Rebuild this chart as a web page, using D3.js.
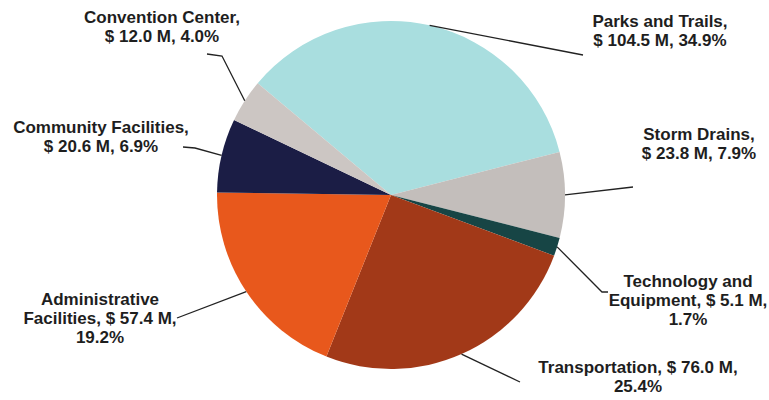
<!DOCTYPE html>
<html>
<head>
<meta charset="utf-8">
<script src="https://cdn.jsdelivr.net/npm/d3@7"></script>
<style>
  body { margin: 0; background: #fff; }
  svg text { font-family: "Liberation Sans", Arial, sans-serif; font-weight: bold; fill: #1e1e1e; }
</style>
</head>
<body>
<div id="chart"></div>
<script>
// data, in the clockwise order drawn (starting at the Parks slice)
var categories = ["Parks and Trails", "Storm Drains", "Technology and Equipment", "Transportation",
                  "Administrative Facilities", "Community Facilities", "Convention Center"];
var amounts = [104.5, 23.8, 5.1, 76.0, 57.4, 20.6, 12.0];   // $ M
var percents = [34.9, 7.9, 1.7, 25.4, 19.2, 6.9, 4.0];
var colors = ["#a9dedf", "#c3bebb", "#174545", "#a23918", "#e8581c", "#1b1d45", "#ccc6c3"];

// label text lines (how the original wraps them)
var labelLines = [
  ["Parks and Trails,", "$ 104.5 M, 34.9%"],
  ["Storm Drains,", "$ 23.8 M, 7.9%"],
  ["Technology and", "Equipment, $ 5.1 M,", "1.7%"],
  ["Transportation, $ 76.0 M,", "25.4%"],
  ["Administrative", "Facilities, $ 57.4 M,", "19.2%"],
  ["Community Facilities,", "$ 20.6 M, 6.9%"],
  ["Convention Center,", "$ 12.0 M, 4.0%"]
];

// label layout: text centre x, first baseline y, leader line bend points
var labelLayout = [
  { x: 660, y: 27, pts: [[583, 55]] },
  { x: 699, y: 140, pts: [[633, 187]] },
  { x: 688, y: 287, pts: [[602, 292], [608, 292]] },
  { x: 638, y: 373, pts: [[520, 382]] },
  { x: 100, y: 305, pts: [[177, 318]] },
  { x: 101, y: 133, pts: [[195, 148], [183, 147]] },
  { x: 162, y: 23, pts: [[222, 56], [207, 54]] }
];

var width = 769;
var height = 400;
var cx = 391, cy = 195, radius = 174;

var svg = d3.select("#chart").append("svg")
    .attr("width", width)
    .attr("height", height);

var pie = d3.pie()
    .sort(null)
    .value(function (d) { return d; })
    .startAngle(-50 * Math.PI / 180)
    .endAngle(310 * Math.PI / 180);

var arcs = pie(amounts);

var arc = d3.arc().innerRadius(0).outerRadius(radius);
var edge = d3.arc().innerRadius(radius).outerRadius(radius);

var pieGroup = svg.append("g")
    .attr("transform", "translate(" + cx + "," + cy + ")");

pieGroup.selectAll("path")
    .data(arcs)
    .enter()
    .append("path")
    .attr("d", arc)
    .attr("fill", function (d, i) { return colors[i]; });

// leader lines
var line = d3.line();
svg.append("g").selectAll("path")
    .data(arcs)
    .enter()
    .append("path")
    .attr("d", function (d, i) {
      var c = edge.centroid(d);
      var pts = [[cx + c[0], cy + c[1]]].concat(labelLayout[i].pts);
      return line(pts);
    })
    .attr("fill", "none")
    .attr("stroke", "#222")
    .attr("stroke-width", 1.3);

// labels
var labels = svg.append("g").selectAll("text")
    .data(labelLines)
    .enter()
    .append("text")
    .attr("text-anchor", "middle")
    .attr("font-size", 17)
    .attr("x", function (d, i) { return labelLayout[i].x; })
    .attr("y", function (d, i) { return labelLayout[i].y; });

labels.selectAll("tspan")
    .data(function (d, i) { return d.map(function (t) { return { t: t, x: labelLayout[i].x }; }); })
    .enter()
    .append("tspan")
    .attr("x", function (d) { return d.x; })
    .attr("dy", function (d, j) { return j === 0 ? 0 : 18.8; })
    .text(function (d) { return d.t; });
</script>
</body>
</html>
